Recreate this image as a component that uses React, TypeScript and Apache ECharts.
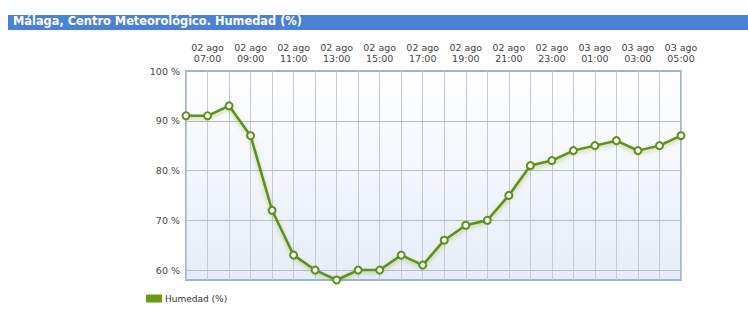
import React, { useEffect, useRef } from "react";
import * as echarts from "echarts";

const categories: string[] = [
  "02 ago\n06:00", "02 ago\n07:00", "02 ago\n08:00", "02 ago\n09:00", "02 ago\n10:00", "02 ago\n11:00",
  "02 ago\n12:00", "02 ago\n13:00", "02 ago\n14:00", "02 ago\n15:00", "02 ago\n16:00", "02 ago\n17:00",
  "02 ago\n18:00", "02 ago\n19:00", "02 ago\n20:00", "02 ago\n21:00", "02 ago\n22:00", "02 ago\n23:00",
  "03 ago\n00:00", "03 ago\n01:00", "03 ago\n02:00", "03 ago\n03:00", "03 ago\n04:00", "03 ago\n05:00",
];
const humedad: number[] = [
  91, 91, 93, 87, 72, 63, 60, 58, 60, 60, 63, 61,
  66, 69, 70, 75, 81, 82, 84, 85, 86, 84, 85, 87,
];
const yTicks: number[] = [60, 70, 80, 90, 100];
const yGridLines: number[] = [60, 70, 80, 90];
const title = "Málaga, Centro Meteorológico. Humedad (%)";
const seriesName = "Humedad (%)";

const FONT = "DejaVu Sans, Verdana, sans-serif";
const GREEN = "#5e8f1a";

export default function App() {
  const ref = useRef<HTMLDivElement>(null);
  useEffect(() => {
    if (!ref.current) return;
    const chart = echarts.init(ref.current, null, { renderer: "svg" });
    chart.setOption({
      animation: false,
      backgroundColor: "#ffffff",
      textStyle: { fontFamily: FONT },
      graphic: [
        {
          type: "rect",
          left: 8,
          top: 15,
          shape: { width: 740, height: 15 },
          style: { fill: "#4a80d5" },
          silent: true,
        },
        {
          type: "text",
          left: 13,
          top: 15.5,
          style: {
            text: title,
            fill: "#ffffff",
            font: `bold 11.4px ${FONT}`,
          },
          silent: true,
        },
      ],
      legend: {
        left: 141,
        top: 289,
        itemWidth: 16,
        itemHeight: 8,
        itemGap: 4,
        icon: "rect",
        data: [{ name: seriesName, itemStyle: { color: "#6a9a12", borderWidth: 0 } }],
        textStyle: { fontSize: 9, color: "#333", fontFamily: FONT, padding: [0, 0, 0, -2] },
      },
      grid: {
        left: 186,
        right: 67,
        top: 71,
        bottom: 33,
        show: true,
        borderColor: "#9db4d6",
        borderWidth: 2,
        backgroundColor: new echarts.graphic.LinearGradient(0, 0, 0, 1, [
          { offset: 0, color: "#ffffff" },
          { offset: 1, color: "#e6edf8" },
        ]),
      },
      xAxis: {
        type: "category",
        position: "top",
        boundaryGap: false,
        data: categories,
        axisLine: { show: false },
        axisTick: { show: false },
        axisLabel: {
          interval: (i: number) => i % 2 === 1,
          color: "#444",
          fontSize: 9.5,
          fontFamily: FONT,
          lineHeight: 11,
          margin: 7,
          align: "center",
        },
        splitLine: {
          show: true,
          interval: 0,
          lineStyle: { color: "#c3c9d6", width: 1 },
        },
      },
      yAxis: {
        type: "value",
        min: 58,
        max: 100,
        axisLine: { show: false },
        axisTick: { show: false },
        splitLine: { show: false },
        axisLabel: {
          customValues: yTicks,
          formatter: (v: number) => `${v} %`,
          color: "#444",
          fontSize: 9.5,
          fontFamily: FONT,
          margin: 6,
        },
      },
      series: [
        {
          name: seriesName,
          type: "line",
          data: humedad,
          symbol: "circle",
          symbolSize: 7,
          z: 5,
          itemStyle: { color: "#ffffff", borderColor: GREEN, borderWidth: 2 },
          lineStyle: {
            color: GREEN,
            width: 2.5,
            shadowColor: "rgba(110,160,30,0.45)",
            shadowBlur: 4,
            shadowOffsetY: 2,
          },
          markLine: {
            silent: true,
            symbol: "none",
            label: { show: false },
            lineStyle: { color: "#b9bdc7", width: 1, type: "solid" },
            data: yGridLines.map((v) => ({ yAxis: v })),
            z: 1,
          },
        },
      ],
    });
    return () => chart.dispose();
  }, []);
  return (
    <div
      ref={ref}
      style={{ position: "absolute", left: 0, top: 0, width: 748, height: 313 }}
    />
  );
}
